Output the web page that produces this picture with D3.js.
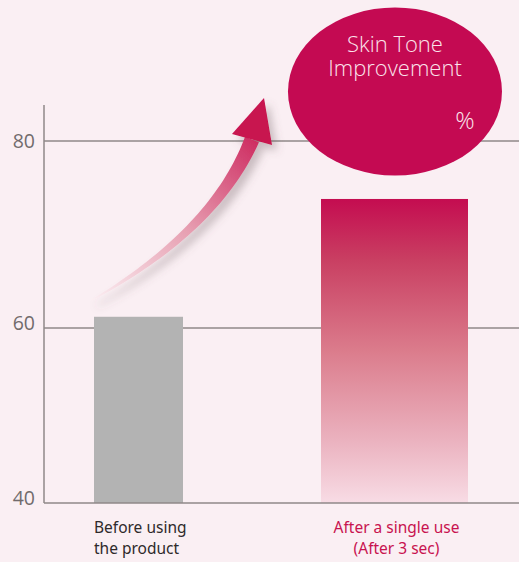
<!DOCTYPE html>
<html><head><meta charset="utf-8">
<script src="https://cdn.jsdelivr.net/npm/d3@7/dist/d3.min.js"></script>
<style>html,body{margin:0;padding:0;background:#faeff3;}svg{display:block;}</style>
</head><body>
<svg id="chart" width="519" height="562"></svg>
<script>
// ---- data ----
const categories = ["Before using the product", "After a single use (After 3 sec)"];
const categoryLines = [["Before using", "the product"], ["After a single use", "(After 3 sec)"]];
const values = [61.2, 73.8];
const tickValues = [40, 60, 80];
const bubbleTitle = ["Skin Tone", "Improvement"];
const bubbleUnit = "%";

// ---- layout/style ----
const W = 519, H = 562;
const axisX = 44, axisTop = 105;
const barWidths = [89, 147];
const axisColor = "#8f8888";

const svg = d3.select("#chart");
svg.append("rect").attr("width", W).attr("height", H).attr("fill", "#faeff3");

const y = d3.scaleLinear().domain([40, 60, 80]).range([503, 328, 141]);
const x = d3.scalePoint().domain(categories).range([138.5, 394.5]);

const defs = svg.append("defs");
const bg = defs.append("linearGradient").attr("id", "barGrad").attr("x1", 0).attr("y1", 0).attr("x2", 0).attr("y2", 1);
bg.append("stop").attr("offset", "0").attr("stop-color", "#c40c50");
bg.append("stop").attr("offset", "0.2").attr("stop-color", "#c93f62");
bg.append("stop").attr("offset", "0.5").attr("stop-color", "#db7c8c");
bg.append("stop").attr("offset", "0.8").attr("stop-color", "#ebb3c0");
bg.append("stop").attr("offset", "1").attr("stop-color", "#f8dce5");

// gridlines
svg.append("g").selectAll("line").data(tickValues.filter(d => d > 40)).join("line")
  .attr("x1", axisX).attr("x2", W).attr("y1", d => y(d)).attr("y2", d => y(d))
  .attr("stroke", axisColor).attr("stroke-width", 1.5);

// bars
svg.append("g").selectAll("rect").data(values).join("rect")
  .attr("x", (d, i) => x(categories[i]) - barWidths[i] / 2)
  .attr("width", (d, i) => barWidths[i])
  .attr("y", d => y(d))
  .attr("height", d => y(40) - y(d))
  .attr("fill", (d, i) => i === 0 ? "#b3b3b3" : "url(#barGrad)");

// axes
const yAxis = d3.axisLeft(y).tickValues(tickValues).tickSize(0).tickPadding(9);
const ag = svg.append("g").attr("transform", `translate(${axisX},0)`).call(yAxis);
ag.select(".domain").remove();
ag.selectAll("text").attr("font-family", "Open Sans, Noto Sans, sans-serif").attr("font-size", 19.5)
  .attr("fill", "#716b6c").attr("dy", "0.32em");
ag.selectAll(".tick").filter(d => d !== 80).select("text").attr("transform", "translate(0,-5)");
svg.append("line").attr("x1", axisX).attr("x2", axisX).attr("y1", axisTop).attr("y2", y(40))
  .attr("stroke", axisColor).attr("stroke-width", 1.5);
svg.append("line").attr("x1", axisX).attr("x2", W).attr("y1", y(40)).attr("y2", y(40))
  .attr("stroke", axisColor).attr("stroke-width", 1.5);

// category labels
const lab = svg.append("g").attr("font-family", "Noto Sans, Open Sans, sans-serif").attr("font-size", 15.5);
categoryLines.forEach((lines, i) => {
  const t = lab.append("text")
    .attr("x", i === 0 ? x(categories[i]) - barWidths[i] / 2 : x(categories[i]) + 2)
    .attr("text-anchor", i === 0 ? "start" : "middle")
    .attr("fill", i === 0 ? "#2e2a2a" : "#c8124f");
  lines.forEach((l, j) => t.append("tspan").attr("x", t.attr("x")).attr("y", 533 + j * 20.5).text(l));
});

// arrow
const ag2 = defs.append("linearGradient").attr("id", "arrGrad").attr("gradientUnits", "userSpaceOnUse")
  .attr("x1", 92).attr("y1", 300).attr("x2", 262).attr("y2", 110);
ag2.append("stop").attr("offset", "0").attr("stop-color", "#fbeef2");
ag2.append("stop").attr("offset", "0.45").attr("stop-color", "#e7a0b2");
ag2.append("stop").attr("offset", "1").attr("stop-color", "#c8124f");
const sh = defs.append("filter").attr("id", "shadow").attr("x", "-30%").attr("y", "-30%").attr("width", "160%").attr("height", "160%");
sh.append("feDropShadow").attr("dx", 5).attr("dy", 6).attr("stdDeviation", 4)
  .attr("flood-color", "#6a5a60").attr("flood-opacity", 0.35);

const P0 = [92, 300], P1 = [215, 230], P2 = [252, 139.5];
const q = t => [(1 - t) * (1 - t) * P0[0] + 2 * (1 - t) * t * P1[0] + t * t * P2[0],
                (1 - t) * (1 - t) * P0[1] + 2 * (1 - t) * t * P1[1] + t * t * P2[1]];
const qd = t => [2 * (1 - t) * (P1[0] - P0[0]) + 2 * t * (P2[0] - P1[0]),
                 2 * (1 - t) * (P1[1] - P0[1]) + 2 * t * (P2[1] - P1[1])];
const left = [], right = [];
for (let k = 0; k <= 40; k++) {
  const t = k / 40, p = q(t), d = qd(t), L = Math.hypot(d[0], d[1]);
  const nx = -d[1] / L, ny = d[0] / L, hw = 0.5 + 7 * Math.pow(t, 0.9);
  left.push([p[0] + nx * hw, p[1] + ny * hw]);
  right.push([p[0] - nx * hw, p[1] - ny * hw]);
}
const shaft = left.concat(right.reverse());
const line = d3.line();
const arrow = svg.append("g").attr("filter", "url(#shadow)");
arrow.append("path").attr("d", line(shaft) + "Z").attr("fill", "url(#arrGrad)");
arrow.append("path").attr("d", line([[232, 134], [264, 98], [272, 145]]) + "Z").attr("fill", "#c8124f");

// bubble
svg.append("ellipse").attr("cx", 395).attr("cy", 91.5).attr("rx", 107).attr("ry", 84).attr("fill", "#c40a52");
const bt = svg.append("g").attr("font-family", "Open Sans, Noto Sans, sans-serif").attr("fill", "#fbe4ec").attr("font-weight", 300);
const title = bt.append("text").attr("text-anchor", "middle").attr("font-size", 22);
bubbleTitle.forEach((s, i) => title.append("tspan").attr("x", 395).attr("y", 52 + i * 24).text(s));
bt.append("text").attr("x", 465).attr("y", 129).attr("text-anchor", "middle").attr("font-size", 24).text(bubbleUnit);
</script>
</body></html>
